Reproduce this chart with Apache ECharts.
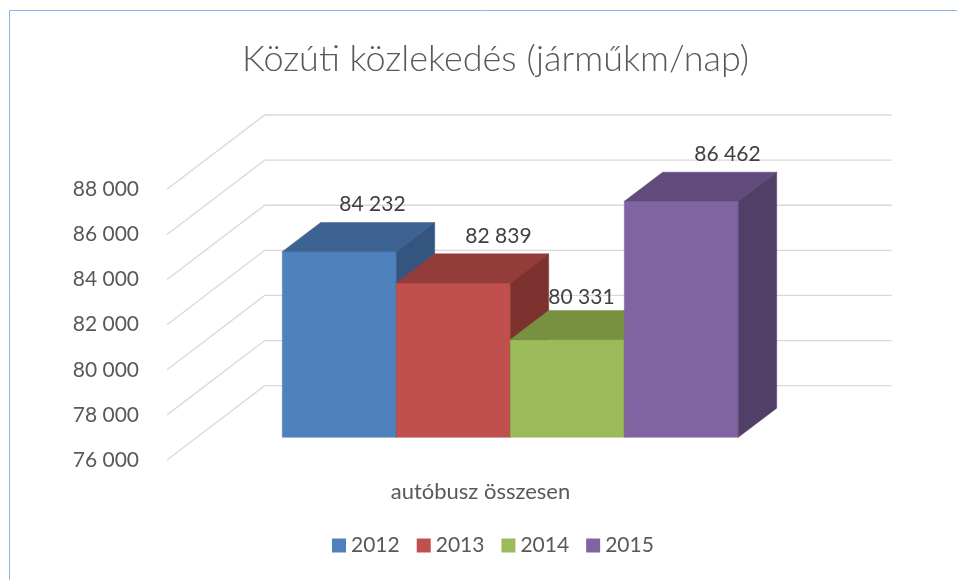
<!DOCTYPE html>
<html>
<head>
<meta charset="utf-8">
<title>Közúti közlekedés</title>
<script src="https://cdn.jsdelivr.net/npm/echarts@6/dist/echarts.min.js"></script>
<style>
  html, body { margin: 0; padding: 0; background: #fff; }
  #chart { width: 957px; height: 580px; }
</style>
</head>
<body>
<div id="chart"></div>
<script>
// data
const categories = ['autóbusz összesen'];
const years = ['2012', '2013', '2014', '2015'];
const values2012 = [84232];
const values2013 = [82839];
const values2014 = [80331];
const values2015 = [86462];
const yTicks = [76000, 78000, 80000, 82000, 84000, 86000, 88000];

const seriesValues = [values2012, values2013, values2014, values2015];

// look of the fake 3d
const DX = 97.7, DY = -74.3;      // depth of the whole floor
const FRONT = 0.305, DEPTH = 0.393; // where the bars sit in that depth
const GAP = 1.5;                   // gap width, as part of a bar
const frontColors = ['#4f81bd', '#c0504d', '#9bbb59', '#8064a2'];
const topColors = ['#3c6391', '#933c3a', '#779140', '#614b7c'];
const sideColors = ['#345580', '#7e322f', '#677e37', '#523f68'];
const labelShift = [[14, -18], [26, -18], [-5, -13], [27, -18]];
const textColor = '#595959';
const font = 'Lato, "Open Sans", sans-serif';

const fmt = v => String(v).replace(/\B(?=(\d{3})+(?!\d))/g, ' ');

function gridRenderer(params, api) {
  const cs = params.coordSys;
  const p = api.coord([0, api.value(1)]);
  return {
    type: 'polyline',
    shape: {
      points: [
        [cs.x, p[1]],
        [cs.x + DX, p[1] + DY],
        [cs.x + cs.width + DX, p[1] + DY]
      ]
    },
    style: { stroke: '#d9d9d9', lineWidth: 1.3, fill: null }
  };
}

function barRenderer(i) {
  return function (params, api) {
    const base = api.coord([api.value(0), yTicks[0]]);
    const top = api.coord([api.value(0), api.value(1)]);
    const band = api.size([1, 0])[0];
    const bw = band / (years.length + GAP);
    const x0 = base[0] - bw * years.length / 2 + i * bw + DX * FRONT;
    const x1 = x0 + bw;
    const yb = base[1] + DY * FRONT;
    const yt = top[1] + DY * FRONT;
    const dx = DX * DEPTH, dy = DY * DEPTH;
    return {
      type: 'group',
      children: [
        {
          type: 'rect',
          shape: { x: x0, y: yt, width: bw, height: yb - yt },
          style: { fill: frontColors[i], stroke: frontColors[i], lineWidth: 0.5 }
        },
        {
          type: 'polygon',
          shape: { points: [[x0, yt], [x0 + dx, yt + dy], [x1 + dx, yt + dy], [x1, yt]] },
          style: { fill: topColors[i], stroke: topColors[i], lineWidth: 0.5 }
        },
        {
          type: 'polygon',
          shape: { points: [[x1, yt], [x1 + dx, yt + dy], [x1 + dx, yb + dy], [x1, yb]] },
          style: { fill: sideColors[i], stroke: sideColors[i], lineWidth: 0.5 }
        },
        {
          type: 'text',
          style: {
            x: x0 + bw / 2 + dx / 2 + labelShift[i][0],
            y: yt + dy + labelShift[i][1],
            text: fmt(api.value(1)),
            fill: '#404040',
            font: '21px ' + font,
            align: 'center',
            verticalAlign: 'middle'
          }
        }
      ]
    };
  };
}

const chart = echarts.init(document.getElementById('chart'), null, { renderer: 'canvas' });

const series = [{
  name: 'grid',
  type: 'custom',
  renderItem: gridRenderer,
  data: yTicks.map(v => [0, v]),
  silent: true,
  z: 1
}];
years.forEach((y, i) => {
  series.push({
    name: y,
    type: 'custom',
    renderItem: barRenderer(i),
    itemStyle: { color: frontColors[i] },
    data: seriesValues[i].map((v, k) => [k, v]),
    z: 2 + i
  });
});

chart.setOption({
  animation: false,
  backgroundColor: '#fff',
  textStyle: { fontFamily: font },
  title: {
    text: 'Közúti közlekedés (járműkm/nap)',
    left: 237,
    top: 36,
    textStyle: { fontSize: 36, fontWeight: 300, color: textColor, fontFamily: font }
  },
  graphic: [{
    type: 'rect',
    shape: { x: 9.5, y: 10.5, width: 1000, height: 1000 },
    style: { fill: null, stroke: '#8eb4e3', lineWidth: 1 },
    silent: true
  }],
  legend: {
    data: years,
    bottom: 19,
    left: 327,
    icon: 'rect',
    itemWidth: 14,
    itemHeight: 14,
    itemGap: 17,
    textStyle: { fontSize: 21, color: textColor, fontFamily: font }
  },
  grid: { left: 167, right: 163, top: 189.3, bottom: 120, containLabel: false },
  xAxis: {
    type: 'category',
    data: categories,
    axisLine: { show: false },
    axisTick: { show: false },
    axisLabel: { margin: 21, fontSize: 22, color: textColor, fontFamily: font }
  },
  yAxis: {
    type: 'value',
    min: yTicks[0],
    max: yTicks[yTicks.length - 1],
    interval: 2000,
    splitLine: { show: false },
    axisLine: { show: false },
    axisTick: { show: false },
    axisLabel: { margin: 28, fontSize: 21, color: textColor, fontFamily: font, formatter: fmt }
  },
  series: series
});
</script>
</body>
</html>
